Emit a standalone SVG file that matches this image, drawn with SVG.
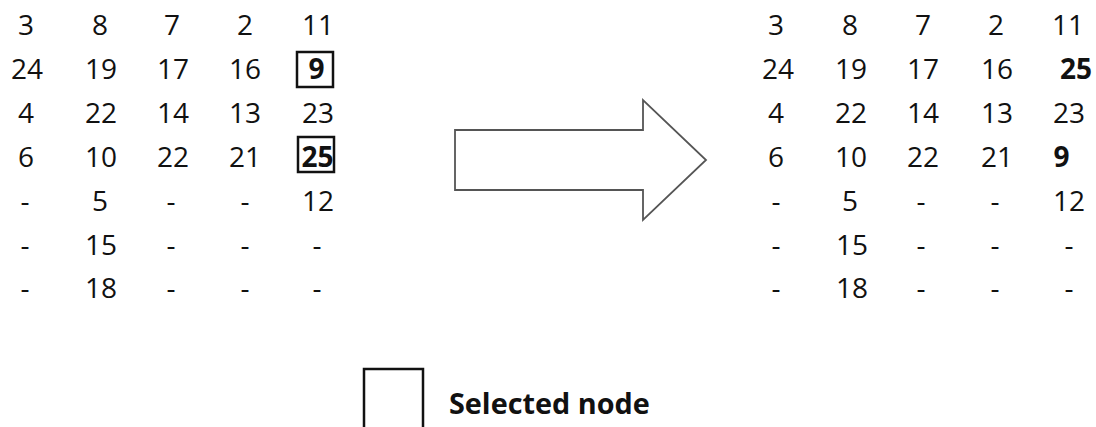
<svg xmlns="http://www.w3.org/2000/svg" width="1096" height="427" viewBox="0 0 1096 427">
<style>
text{font-family:"Open Sans","Liberation Sans",sans-serif;font-size:28px;fill:#111;text-anchor:middle}
.b{font-weight:bold}
.l{text-anchor:start}
.sel{fill:none;stroke:#111;stroke-width:2.5}
.arrow{fill:#fff;stroke:#555;stroke-width:1.8;stroke-linejoin:miter}
</style>
<rect width="1096" height="427" fill="#fff"/>
<g id="left-grid">
<g id="L-r1"><text x="26" y="35">3</text><text x="100" y="35">8</text><text x="172" y="35">7</text><text x="245" y="35">2</text><text x="318" y="35">11</text></g>
<g id="L-r2"><text x="27" y="79">24</text><text x="101" y="79">19</text><text x="173" y="79">17</text><text x="245" y="79">16</text></g>
<g id="L-sel9"><rect class="sel" x="297" y="52" width="36" height="35"/><text class="b" x="316.5" y="79">9</text></g>
<g id="L-r3"><text x="26" y="123">4</text><text x="101" y="123">22</text><text x="173" y="123">14</text><text x="245" y="123">13</text><text x="318" y="123">23</text></g>
<g id="L-r4"><text x="26" y="167">6</text><text x="101" y="167">10</text><text x="173" y="167">22</text><text x="245" y="167">21</text></g>
<g id="L-sel25"><rect class="sel" x="298" y="137" width="36" height="35"/><text class="b" x="317.5" y="167">25</text></g>
<g id="L-r5"><text x="25" y="211">-</text><text x="100" y="211">5</text><text x="171" y="211">-</text><text x="245" y="211">-</text><text x="318" y="211">12</text></g>
<g id="L-r6"><text x="25" y="255">-</text><text x="101" y="255">15</text><text x="171" y="255">-</text><text x="245" y="255">-</text><text x="317" y="255">-</text></g>
<g id="L-r7"><text x="25" y="298">-</text><text x="101" y="298">18</text><text x="171" y="298">-</text><text x="245" y="298">-</text><text x="317" y="298">-</text></g>
</g>
<g id="connectors">
<polygon class="arrow" points="455,130 643,130 643,100 706,160 643,220 643,190 455,190"/>
</g>
<g id="right-grid">
<g id="R-r1"><text x="776" y="35">3</text><text x="850" y="35">8</text><text x="923" y="35">7</text><text x="996" y="35">2</text><text x="1068" y="35">11</text></g>
<g id="R-r2"><text x="778" y="79">24</text><text x="851" y="79">19</text><text x="923" y="79">17</text><text x="997" y="79">16</text><text class="b" x="1076" y="79">25</text></g>
<g id="R-r3"><text x="776" y="123">4</text><text x="851" y="123">22</text><text x="923" y="123">14</text><text x="997" y="123">13</text><text x="1069" y="123">23</text></g>
<g id="R-r4"><text x="776" y="167">6</text><text x="851" y="167">10</text><text x="923" y="167">22</text><text x="997" y="167">21</text><text class="b" x="1061.5" y="167">9</text></g>
<g id="R-r5"><text x="776" y="211">-</text><text x="850" y="211">5</text><text x="921" y="211">-</text><text x="995" y="211">-</text><text x="1069" y="211">12</text></g>
<g id="R-r6"><text x="776" y="255">-</text><text x="852" y="255">15</text><text x="921" y="255">-</text><text x="995" y="255">-</text><text x="1069" y="255">-</text></g>
<g id="R-r7"><text x="776" y="298">-</text><text x="852" y="298">18</text><text x="921" y="298">-</text><text x="995" y="298">-</text><text x="1069" y="298">-</text></g>
</g>
<g id="legend">
<rect class="sel" x="364" y="369" width="59" height="70"/>
<text class="b l" x="449" y="414" style="font-size:28.8px">Selected node</text>
</g>
</svg>
